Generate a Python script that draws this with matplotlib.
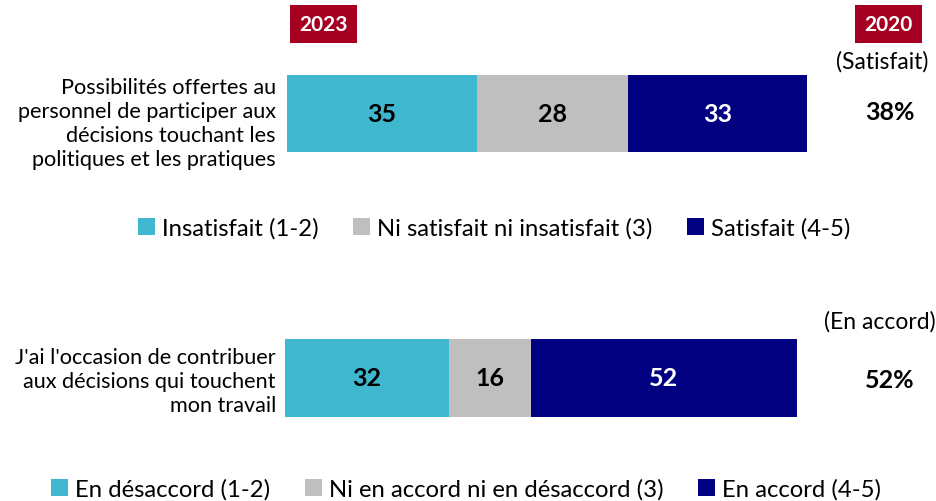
import matplotlib
matplotlib.use("Agg")
import matplotlib.pyplot as plt
from matplotlib.patches import Patch

plt.rcParams['font.family'] = ['Lato', 'DejaVu Sans']

# Data
q1_label = "Possibilités offertes au\npersonnel de participer aux\ndécisions touchant les\npolitiques et les pratiques"
q1_cats = ["Insatisfait (1-2)", "Ni satisfait ni insatisfait (3)", "Satisfait (4-5)"]
q1_vals = [35, 28, 33]
q1_2020_label = "(Satisfait)"
q1_2020 = "38%"

q2_label = "J'ai l'occasion de contribuer\naux décisions qui touchent\nmon travail"
q2_cats = ["En désaccord (1-2)", "Ni en accord ni en désaccord (3)", "En accord (4-5)"]
q2_vals = [32, 16, 52]
q2_2020_label = "(En accord)"
q2_2020 = "52%"

years = ["2023", "2020"]

colors = ["#3FB7CE", "#BFBFBF", "#000080"]
txt_colors = ["black", "black", "white"]

W, H = 937, 502
fig = plt.figure(figsize=(W / 100, H / 100), dpi=100)

def px_axes(x0, y0, x1, y1):
    return fig.add_axes([x0 / W, 1 - y1 / H, (x1 - x0) / W, (y1 - y0) / H])

def draw_bar(ax, vals, cats):
    left = 0
    for v, c, tc, cat in zip(vals, colors, txt_colors, cats):
        ax.barh(0, v, left=left, height=1.0, color=c, label=cat)
        ax.text(left + v / 2, 0, str(v), ha="center", va="center",
                fontsize=18, fontweight="bold", color=tc)
        left += v
    ax.set_xlim(0, 100)
    ax.set_ylim(-0.5, 0.5)
    ax.axis("off")

ax1 = px_axes(287, 76, 829, 153)
draw_bar(ax1, q1_vals, q1_cats)
ax2 = px_axes(285, 340, 797, 418)
draw_bar(ax2, q2_vals, q2_cats)

# Left labels
fig.text(276 / W, 1 - 124 / H, q1_label, ha="right", va="center",
         fontsize=15.6, linespacing=1.27)
fig.text(276 / W, 1 - 382 / H, q2_label, ha="right", va="center",
         fontsize=15.6, linespacing=1.27)

# Year boxes
for yr, xc in zip(years, [323.5, 888.5]):
    fig.text(xc / W, 1 - 25 / H, yr, ha="center", va="center", fontsize=15,
             fontweight="bold", color="white",
             bbox=dict(boxstyle="square,pad=0.45", fc="#A50021", ec="none"))

# 2020 values
fig.text(882 / W, 1 - 62 / H, q1_2020_label, ha="center", va="center", fontsize=16.5)
fig.text(890 / W, 1 - 113 / H, q1_2020, ha="center", va="center", fontsize=18, fontweight="bold")
fig.text(880 / W, 1 - 322 / H, q2_2020_label, ha="center", va="center", fontsize=16.5)
fig.text(890 / W, 1 - 381 / H, q2_2020, ha="center", va="center", fontsize=18, fontweight="bold")

# Legends
def add_legend(cats, yc, xc):
    handles = [Patch(facecolor=c, edgecolor="none") for c in colors]
    fig.legend(handles, cats, loc="center", bbox_to_anchor=(xc / W, 1 - yc / H),
               ncol=3, frameon=False, fontsize=17.2, handlelength=0.7,
               handleheight=0.7, handletextpad=0.3, columnspacing=1.45,
               borderpad=0, borderaxespad=0)

add_legend(q1_cats, 229, 494)
add_legend(q2_cats, 490, 466)

fig.savefig("out.png", dpi=100)
